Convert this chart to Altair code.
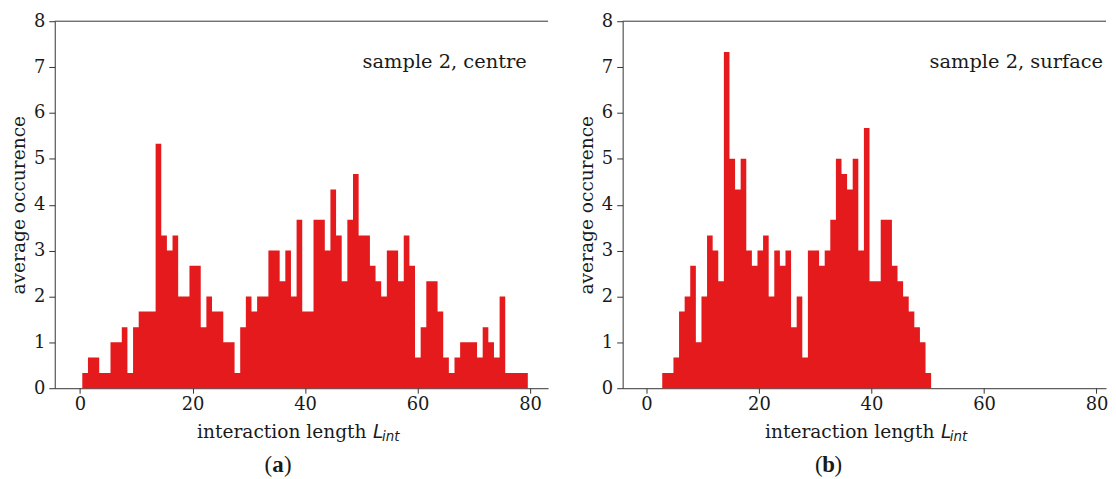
import altair as alt
import numpy as np
import pandas as pd

# ---- data (average occurrence per bin) ----
occ_centre = [0.33, 0.67, 0.67, 0.33, 0.33, 1.0, 1.0, 1.33, 0.33, 1.33,
              1.67, 1.67, 1.67, 5.33, 3.33, 3.0, 3.33, 2.0, 2.0, 2.67,
              2.67, 1.33, 2.0, 1.67, 1.67, 1.0, 1.0, 0.33, 1.33, 2.0,
              1.67, 2.0, 2.0, 3.0, 3.0, 2.33, 3.0, 2.0, 3.67, 1.67,
              1.67, 3.67, 3.67, 3.0, 4.33, 3.33, 2.33, 3.67, 4.67, 3.33,
              3.33, 2.67, 2.33, 2.0, 3.0, 3.0, 2.33, 3.33, 2.67, 0.67,
              1.33, 2.33, 2.33, 1.67, 0.67, 0.33, 0.67, 1.0, 1.0, 1.0,
              0.67, 1.33, 1.0, 0.67, 2.0, 0.33, 0.33, 0.33, 0.33]
centre_range = [0.4, 79.6]

occ_surface = [0.33, 0.33, 0.67, 1.67, 2.0, 2.67, 1.0, 2.0, 3.33, 3.0,
               2.33, 7.33, 5.0, 4.33, 5.0, 3.0, 2.67, 3.0, 3.33, 2.0,
               3.0, 2.67, 3.0, 1.33, 2.0, 0.67, 3.0, 3.0, 2.67, 3.0,
               3.67, 5.0, 4.67, 4.33, 5.0, 3.0, 5.67, 2.33, 2.33, 3.67,
               3.67, 2.67, 2.33, 2.0, 1.67, 1.33, 1.0, 0.33]
surface_range = [2.8, 50.6]

x_ticks = [0, 20, 40, 60, 80]
y_ticks = [0, 1, 2, 3, 4, 5, 6, 7, 8]
y_title = "average occurence"
x_title_main = "interaction length"
x_title_sym = "L"
x_title_sub = "int"
labels = ["sample 2, centre", "sample 2, surface"]
letters = ["a", "b"]

RED = "#e41a1c"
SERIF = "DejaVu Serif"
AX = "#333333"
TXT = "#1a1a1a"
H = 369
FS_TICK = 18
FS_TITLE = 18.7
FS_ANN = 19.5


def frame(vals, rng):
    # histogram outline: one point per bin edge, step-after interpolation
    edges = np.linspace(rng[0], rng[1], len(vals) + 1)
    return pd.DataFrame({"e": edges, "v": list(vals) + [vals[-1]]})


def panel(df, xdom, w, label, lab_x, letter, let_x):
    one = pd.DataFrame({"k": [0]})
    xs = alt.Scale(domain=xdom, nice=False, zero=False)
    ys = alt.Scale(domain=[0, 8], nice=False)
    bars = alt.Chart(df).mark_area(color=RED, opacity=1,
                                   interpolate="step-after").encode(
        x=alt.X("e:Q", scale=xs, axis=alt.Axis(
            values=x_ticks, title=None, labelAngle=0, labelPadding=2,
            tickSize=5, format="d")),
        y=alt.Y("v:Q", scale=ys, axis=alt.Axis(
            values=y_ticks, title=y_title, labelPadding=4, tickSize=6,
            titleX=-36, titleY=H / 2, titleAngle=270, titleAlign="center",
            titleBaseline="middle", format="d")),
        y2=alt.datum(0),
    )
    top = alt.Chart(one).mark_rule(color=AX, strokeWidth=1).encode(
        x=alt.value(0), x2=alt.value(w), y=alt.value(0))
    base = alt.Chart(one)
    ann = base.mark_text(font=SERIF, fontSize=FS_ANN, align="right",
                         baseline="alphabetic", color=TXT).encode(
        text=alt.value(label), x=alt.value(lab_x), y=alt.value(47))
    t_main = base.mark_text(font=SERIF, fontSize=FS_TITLE, align="right",
                            baseline="alphabetic", color=TXT).encode(
        text=alt.value(x_title_main), x=alt.value(313.5), y=alt.value(419))
    t_sym = base.mark_text(font="DejaVu Sans", fontStyle="italic", fontSize=FS_TITLE,
                           align="left", baseline="alphabetic", color=TXT).encode(
        text=alt.value(x_title_sym), x=alt.value(320), y=alt.value(419))
    t_sub = base.mark_text(font="DejaVu Sans", fontStyle="italic", fontSize=13.5,
                           align="left", baseline="alphabetic", color=TXT).encode(
        text=alt.value(x_title_sub), x=alt.value(329), y=alt.value(422))
    p_l = base.mark_text(font="Liberation Serif", fontSize=23, align="right",
                         baseline="alphabetic", color=TXT).encode(
        text=alt.value("("), x=alt.value(let_x - 6), y=alt.value(453))
    p_m = base.mark_text(font="Liberation Serif", fontSize=23, fontWeight="bold",
                         align="center", baseline="alphabetic", color=TXT).encode(
        text=alt.value(letter), x=alt.value(let_x), y=alt.value(453))
    p_r = base.mark_text(font="Liberation Serif", fontSize=23, align="left",
                         baseline="alphabetic", color=TXT).encode(
        text=alt.value(")"), x=alt.value(let_x + 6), y=alt.value(453))
    return alt.layer(bars, top, ann, t_main, t_sym, t_sub, p_l, p_m, p_r).properties(
        width=w, height=H)


left = panel(frame(occ_centre, centre_range), [-4.5, 83.2], 496,
             labels[0], 474.5, letters[0], 224.5)
right = panel(frame(occ_surface, surface_range), [-4.24, 81.69], 486,
              labels[1], 483, letters[1], 207)

chart = alt.hconcat(left, right, spacing=29).properties(
    padding={"left": 2, "top": 3, "right": 0, "bottom": 0}
).configure_view(stroke=None).configure_axis(
    domainColor=AX, domainWidth=1, tickColor=AX, tickWidth=1,
    labelFont=SERIF, labelFontSize=FS_TICK, labelColor=TXT, grid=False,
    titleFont=SERIF, titleFontSize=FS_TITLE, titleFontWeight="normal", titleColor=TXT,
)

chart.save("out.html", embed_options={"renderer": "svg", "actions": False})
